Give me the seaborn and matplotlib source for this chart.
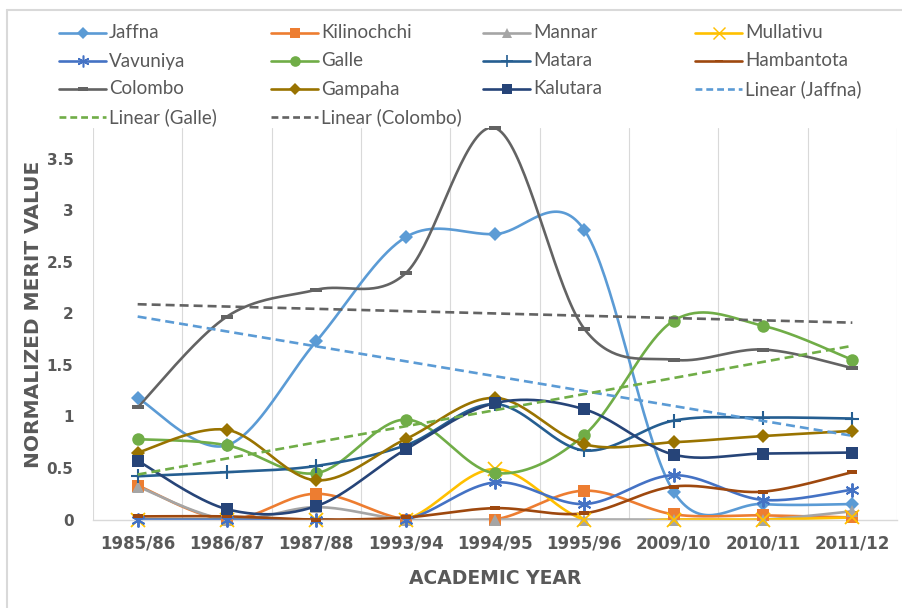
import numpy as np
import pandas as pd
import matplotlib
matplotlib.use("Agg")
import matplotlib.pyplot as plt
import seaborn as sns
from matplotlib.lines import Line2D

# ---------------- data ----------------
years = ["1985/86", "1986/87", "1987/88", "1993/94", "1994/95",
         "1995/96", "2009/10", "2010/11", "2011/12"]
jaffna      = [1.18, 0.72, 1.73, 2.74, 2.77, 2.81, 0.27, 0.15, 0.15]
kilinochchi = [0.33, 0.00, 0.25, 0.00, 0.00, 0.28, 0.05, 0.04, 0.02]
mannar      = [0.32, 0.00, 0.12, 0.00, 0.00, 0.00, 0.00, 0.00, 0.08]
mullativu   = [0.00, 0.00, 0.00, 0.00, 0.49, 0.00, 0.00, 0.00, 0.02]
vavuniya    = [0.00, 0.00, 0.00, 0.00, 0.36, 0.15, 0.43, 0.19, 0.29]
galle       = [0.78, 0.72, 0.45, 0.97, 0.45, 0.82, 1.93, 1.88, 1.55]
matara      = [0.42, 0.46, 0.52, 0.72, 1.12, 0.67, 0.96, 0.99, 0.98]
hambantota  = [0.03, 0.03, 0.00, 0.02, 0.11, 0.06, 0.32, 0.27, 0.46]
colombo     = [1.09, 1.97, 2.23, 2.39, 3.80, 1.85, 1.55, 1.65, 1.47]
gampaha     = [0.65, 0.87, 0.38, 0.78, 1.18, 0.73, 0.75, 0.81, 0.86]
kalutara    = [0.57, 0.10, 0.13, 0.68, 1.13, 1.07, 0.63, 0.64, 0.65]

series_names = ["Jaffna", "Kilinochchi", "Mannar", "Mullativu", "Vavuniya", "Galle",
                "Matara", "Hambantota", "Colombo", "Gampaha", "Kalutara"]
series_values = [jaffna, kilinochchi, mannar, mullativu, vavuniya, galle,
                 matara, hambantota, colombo, gampaha, kalutara]
trend_series = ["Jaffna", "Galle", "Colombo"]
ytick_values = [0, 0.5, 1, 1.5, 2, 2.5, 3, 3.5]
ytick_labels = ["0", "0.5", "1", "1.5", "2", "2.5", "3", "3.5"]

df = pd.DataFrame({"year": np.repeat([years], len(series_names), axis=0).ravel(),
                   "pos": np.tile(np.arange(len(years)), len(series_names)),
                   "series": np.repeat(series_names, len(years)),
                   "value": np.concatenate(series_values)})

# ---------------- styles ----------------
dash_marker = [(-1, -0.35), (1, -0.35), (1, 0.35), (-1, 0.35), (-1, -0.35)]
styles = {
    "Jaffna":      dict(color="#5B9BD5", marker="D", ms=6.8, mew=0),
    "Kilinochchi": dict(color="#ED7D31", marker="s", ms=8.0, mew=0),
    "Mannar":      dict(color="#A5A5A5", marker="^", ms=8.0, mew=0),
    "Mullativu":   dict(color="#FFC000", marker="x", ms=9.5, mew=1.3),
    "Vavuniya":    dict(color="#4472C4", marker=(6, 2, 0), ms=10, mew=1.4),
    "Galle":       dict(color="#70AD47", marker="o", ms=9.0, mew=0),
    "Matara":      dict(color="#255E91", marker="+", ms=10, mew=1.5),
    "Hambantota":  dict(color="#9E480E", marker=dash_marker, ms=7, mew=0),
    "Colombo":     dict(color="#636363", marker=dash_marker, ms=9, mew=0),
    "Gampaha":     dict(color="#997300", marker="D", ms=6.8, mew=0),
    "Kalutara":    dict(color="#264478", marker="s", ms=9.0, mew=0),
}
TEXT = "#595959"
GRID = "#D9D9D9"


def excel_smooth(y, n=40):
    """Bezier smoothing through the data points (Excel 'smoothed line')."""
    x = np.arange(len(y), dtype=float)
    P = np.column_stack([x, np.asarray(y, dtype=float)])
    out = []
    t = np.linspace(0, 1, n)[:, None]
    for i in range(len(P) - 1):
        p0 = P[i - 1] if i > 0 else P[i]
        p1, p2 = P[i], P[i + 1]
        p3 = P[i + 2] if i + 2 < len(P) else P[i + 1]
        c1 = p1 + (p2 - p0) / 6.0
        c2 = p2 - (p3 - p1) / 6.0
        seg = (1 - t) ** 3 * p1 + 3 * (1 - t) ** 2 * t * c1 + 3 * (1 - t) * t ** 2 * c2 + t ** 3 * p2
        out.append(seg if i == 0 else seg[1:])
    return np.vstack(out)


sns.set_theme(style="white")
plt.rcParams["font.family"] = ["DejaVu Sans"]

W, H = 902, 608
fig = plt.figure(figsize=(W / 100, H / 100), dpi=100)
fig.patch.set_facecolor("white")
ax = fig.add_axes([93 / W, 1 - 519.5 / H, 804 / W, 391.5 / H])

LW = 1.9
for name in series_names:
    st = styles[name]
    sub = df[df["series"] == name]
    curve = excel_smooth(sub["value"].values)
    sns.lineplot(x=curve[:, 0], y=curve[:, 1], ax=ax, color=st["color"], lw=LW,
                 sort=False, estimator=None, legend=False)
    ax.plot(sub["pos"], sub["value"], ls="none", marker=st["marker"], ms=st["ms"],
            color=st["color"], mec=st["color"], mew=st["mew"], clip_on=False, zorder=3)

# linear trend lines
for name in trend_series:
    sub = df[df["series"] == name]
    k, b = np.polyfit(sub["pos"], sub["value"], 1)
    xs = sub["pos"].values
    sns.lineplot(x=xs, y=k * xs + b, ax=ax, color=styles[name]["color"], lw=LW,
                 dashes=False, legend=False)
    ax.lines[-1].set_dashes([3.4, 1.9])
    ax.lines[-1].set_zorder(4)

ax.set_xlim(-0.5, len(years) - 0.5)
ax.set_ylim(0, 3.8)
ax.set_xticks(range(len(years)))
ax.set_xticklabels(years)
ax.set_xticks(np.arange(-0.5, len(years), 1.0), minor=True)
ax.set_yticks(ytick_values)
ax.set_yticklabels(ytick_labels)
ax.grid(False)
ax.grid(True, which="minor", axis="x", color=GRID, lw=0.8)
ax.set_axisbelow(True)
for s in ["top", "right", "left"]:
    ax.spines[s].set_visible(False)
ax.spines["bottom"].set_color(GRID)
ax.spines["bottom"].set_linewidth(1.0)
ax.tick_params(axis="both", which="both", length=0)
ax.tick_params(axis="x", pad=11)
ax.tick_params(axis="y", pad=14)
for lab in ax.get_xticklabels():
    lab.set_fontfamily("DejaVu Sans")
    lab.set_fontweight("bold")
    lab.set_fontsize(12)
    lab.set_color(TEXT)
for lab in ax.get_yticklabels():
    lab.set_fontfamily("DejaVu Sans")
    lab.set_fontweight("bold")
    lab.set_fontsize(11)
    lab.set_color(TEXT)

ax.set_xlabel("ACADEMIC YEAR", fontsize=13.5, fontweight="bold", color=TEXT,
              family="DejaVu Sans")
ax.set_ylabel("NORMALIZED MERIT VALUE", fontsize=14.5, fontweight="bold", color=TEXT,
              family="DejaVu Sans")
ax.xaxis.set_label_coords(0.5, -(578 - 519.5) / 391.5)
ax.xaxis.label.set_va("center")
ax.yaxis.set_label_coords((34 - 93) / 804, (519.5 - 314) / 391.5)
ax.yaxis.label.set_va("center")

# ---------------- overlay: border + legend ----------------
ov = fig.add_axes([0, 0, 1, 1])
ov.set_xlim(0, W)
ov.set_ylim(H, 0)
ov.axis("off")
ov.patch.set_alpha(0)
ov.add_line(Line2D([7, W], [10, 10], color=GRID, lw=1.5))
ov.add_line(Line2D([7, 7], [10, H], color=GRID, lw=1.5))

legend_items = [(n, "solid") for n in series_names] + [(n, "trend") for n in trend_series]
for idx, (name, kind) in enumerate(legend_items):
    r, c = divmod(idx, 4)
    x0 = 59 + 212 * c
    y0 = 33 + 28 * r
    st = styles[name]
    if kind == "solid":
        ov.add_line(Line2D([x0, x0 + 47], [y0, y0], color=st["color"], lw=LW))
        ov.add_line(Line2D([x0 + 23.5], [y0], ls="none", marker=st["marker"],
                           ms=st["ms"] * 0.85, color=st["color"], mec=st["color"],
                           mew=st["mew"] * 0.8))
        label = name
    else:
        ln = Line2D([x0, x0 + 47], [y0, y0], color=st["color"], lw=LW)
        ln.set_dashes([2.6, 1.5])
        ov.add_line(ln)
        label = f"Linear ({name})"
    ov.text(x0 + 50, y0, label, ha="left", va="center", fontsize=13.5, color=TEXT,
            family=["Lato", "DejaVu Sans"])

fig.savefig("out.png", dpi=100, facecolor="white")
